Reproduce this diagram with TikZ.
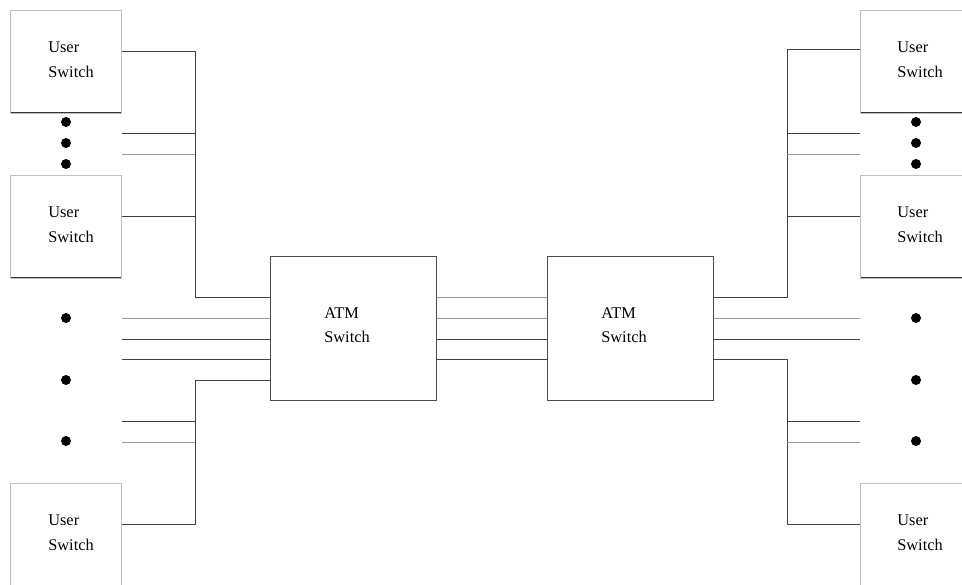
\documentclass[tikz,border=0pt]{standalone}
\usepackage{fontspec}
\setmainfont{Liberation Serif}
\usetikzlibrary{positioning,calc}

\begin{document}
\begin{tikzpicture}[
  x=0.02cm,
  y=-0.02cm,
  boxtext/.style={font=\fontsize{9.3}{14}\selectfont, align=left, inner sep=0pt, anchor=west},
  userbox/.style={draw=black!25, thin, anchor=north west, inner sep=0pt,
    minimum width=2.22cm, minimum height=2.06cm,
    path picture={\draw[black!80, line width=1.5pt] (path picture bounding box.south west) -- (path picture bounding box.south east);}},
  atmbox/.style={draw=black!70, thin, anchor=north west, inner sep=0pt,
    minimum width=3.32cm, minimum height=2.88cm},
  dot/.style={circle, fill=black, inner sep=0pt, minimum size=0.2cm},
  wire/.style={draw=black!75, thin},
  faintwire/.style={draw=black!40, thin}
]
  % Frame: 962 x 584 px, y counted downwards
  \useasboundingbox (0,0) rectangle (962,584);
  \clip (0,0) rectangle (962,584);
  % User switches, left and right columns
  \foreach \side/\x/\t in {L/10/0.76cm, R/860/0.74cm} {
    \foreach \y [count=\i] in {10,175,483} {
      \node[userbox, label={[boxtext, xshift=\t, yshift=0.04cm]west:User\\Switch}] (u\side\i) at (\x,\y) {};
    }
  }
  % ATM switches
  \node[atmbox, label={[boxtext, xshift=1.08cm, yshift=0.06cm]west:ATM\\Switch}] (atmA) at (270,256) {};
  \node[atmbox, label={[boxtext, xshift=1.08cm, yshift=0.06cm]west:ATM\\Switch}] (atmB) at (547,256) {};
  % Ellipsis dots
  \foreach \y [count=\i] in {122,143,164,318,380,441} {
    \node[dot] (dL\i) at (66,\y) {};
    \node[dot] (dR\i) at (916,\y) {};
  }
  % Bus columns
  \coordinate (busL) at (195,0);
  \coordinate (busR) at (787,0);
  % Left side links
  \draw[wire] (uL1.east |- 0,51) -| (busL |- 0,297) -- (atmA.west |- 0,297);
  \draw[wire] (uL1.east |- 0,133) -- (busL |- 0,133);
  \draw[faintwire] (uL1.east |- 0,154) -- (busL |- 0,154);
  \draw[wire] (uL2.east |- 0,216) -- (busL |- 0,216);
  \draw[faintwire] (uL1.east |- 0,318) -- (atmA.west |- 0,318);
  \draw[wire] (uL1.east |- 0,339) -- (atmA.west |- 0,339);
  \draw[wire] (uL1.east |- 0,359) -- (atmA.west |- 0,359);
  \draw[wire] (atmA.west |- 0,380) -| (busL |- 0,524) -- (uL3.east |- 0,524);
  \draw[wire] (uL1.east |- 0,421) -- (busL |- 0,421);
  \draw[faintwire] (uL1.east |- 0,442) -- (busL |- 0,442);
  % Trunk between the ATM switches
  \foreach \y/\s in {297/faintwire, 318/faintwire, 339/wire, 359/wire} {
    \draw[\s] (atmA.east |- 0,\y) -- (atmB.west |- 0,\y);
  }
  % Right side links
  \draw[wire] (atmB.east |- 0,297) -| (busR |- 0,49) -- (uR1.west |- 0,49);
  \draw[wire] (busR |- 0,133) -- (uR1.west |- 0,133);
  \draw[faintwire] (busR |- 0,154) -- (uR1.west |- 0,154);
  \draw[wire] (busR |- 0,216) -- (uR2.west |- 0,216);
  \draw[faintwire] (atmB.east |- 0,318) -- (uR1.west |- 0,318);
  \draw[wire] (atmB.east |- 0,339) -- (uR1.west |- 0,339);
  \draw[wire] (atmB.east |- 0,359) -| (busR |- 0,524) -- (uR3.west |- 0,524);
  \draw[wire] (busR |- 0,421) -- (uR1.west |- 0,421);
  \draw[faintwire] (busR |- 0,442) -- (uR1.west |- 0,442);
\end{tikzpicture}
\end{document}
